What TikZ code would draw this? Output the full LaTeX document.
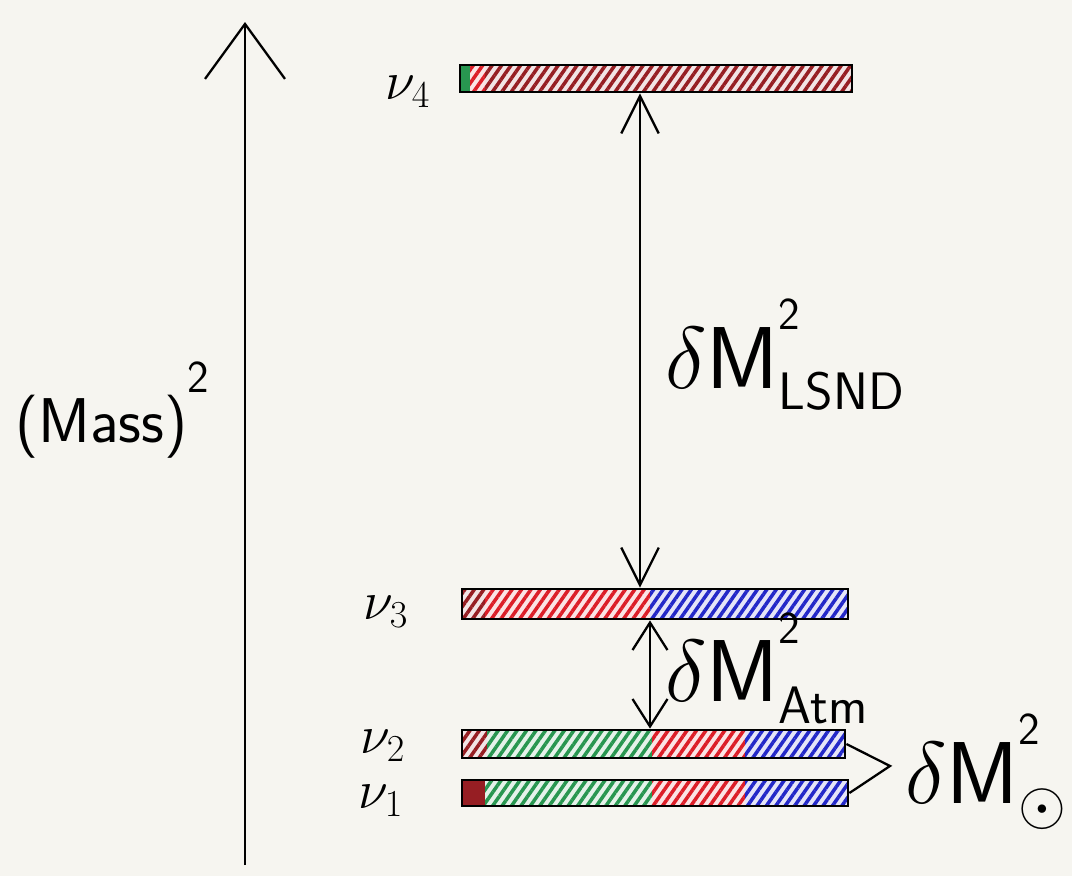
\RequirePackage{fix-cm}
\documentclass[tikz,border=0pt]{standalone}
\usetikzlibrary{arrows.meta,patterns.meta,fit}
\definecolor{paper}{RGB}{246,245,240}
\definecolor{dred}{RGB}{150,30,35}
\definecolor{hred}{RGB}{220,30,40}
\definecolor{hgreen}{RGB}{40,150,80}
\definecolor{hblue}{RGB}{35,40,200}
\newcommand{\subtxt}[1]{\mbox{\fontsize{30}{32}\selectfont\sffamily #1}}
\newcommand{\suptxt}[1]{\raisebox{0.3em}{\mbox{\fontsize{26}{28}\selectfont\sffamily #1}}}
\tikzset{
  barbox/.style={draw=black,line width=1.6pt,inner sep=0pt,rectangle},
  seg/.style={preaction={fill=#1!12},pattern={Lines[angle=55,distance=4.4pt,line width=2pt]},pattern color=#1},
  conn/.style={line width=1.3pt},
  lbl/.style={font=\fontsize{31}{36}\selectfont,inner sep=0pt},
  big/.style={font=\fontsize{50}{56}\selectfont,inner sep=0pt}
}
\begin{document}
\begin{tikzpicture}[x=0.02cm,y=-0.02cm]
\fill[paper] (0,0) rectangle (1072,876);
\useasboundingbox (0,0) rectangle (1072,876);
% axis
\coordinate (ax0) at (245,865);
\coordinate (ax1) at (245,22);
\draw[conn,-{Straight Barb[length=1.1cm,width=1.6cm,line width=1.3pt]}] (ax0) -- (ax1);
\node[lbl,font=\fontsize{36}{44}\selectfont\sffamily] (mass) at (112,410) {(Mass)\raisebox{0.5em}{\suptxt{2}}};

% nu4 bar
\fill[seg=dred] (485,65) rectangle (852,92);
\fill[hgreen] (460,65) rectangle (470,92);
\fill[seg=hred] (470,65) rectangle (485,92);
\node[barbox,fit={(460,65)(852,92)}] (b4) {};
% nu3 bar
\fill[seg=dred] (462,589) rectangle (485,619);
\fill[seg=hred] (485,589) rectangle (650,619);
\fill[seg=hblue] (650,589) rectangle (848,619);
\node[barbox,fit={(462,589)(848,619)}] (b3) {};
% nu2 bar
\fill[seg=dred] (462,730) rectangle (487,758);
\fill[seg=hgreen] (487,730) rectangle (652,758);
\fill[seg=hred] (652,730) rectangle (745,758);
\fill[seg=hblue] (745,730) rectangle (845,758);
\node[barbox,fit={(462,730)(845,758)}] (b2) {};
% nu1 bar
\fill[dred] (462,780) rectangle (485,806);
\fill[seg=hgreen] (485,780) rectangle (652,806);
\fill[seg=hred] (652,780) rectangle (745,806);
\fill[seg=hblue] (745,780) rectangle (848,806);
\node[barbox,fit={(462,780)(848,806)}] (b1) {};

% labels
\node[lbl] (n4) at (408,92) {$\nu_4$};
\node[lbl] (n3) at (386,612) {$\nu_3$};
\node[lbl] (n2) at (383,746) {$\nu_2$};
\node[lbl] (n1) at (381,801) {$\nu_1$};

% LSND arrow
\coordinate (lx) at (640,0);
\draw[conn,{Straight Barb[length=0.75cm,width=0.75cm,line width=1.3pt]}-{Straight Barb[length=0.75cm,width=0.75cm,line width=1.3pt]}] (b4.south -| lx) -- (b3.north -| lx);
\node[big,anchor=west] (lsnd) at (665,355) {$\delta\mathsf{M}^{\suptxt{2}}_{\subtxt{LSND}}$};
% Atm arrow
\coordinate (ax) at (650,0);
\draw[conn,{Straight Barb[length=0.55cm,width=0.7cm,line width=1.3pt]}-{Straight Barb[length=0.55cm,width=0.7cm,line width=1.3pt]}] (b3.south -| ax) -- (b2.north -| ax);
\node[big,anchor=west] (atm) at (665,668) {$\delta\mathsf{M}^{\suptxt{2}}_{\subtxt{Atm}}$};
% solar bracket
\coordinate (sv) at (890,766);
\draw[conn,line join=miter] (b2.east) -- (sv) -- (b1.east);
\node[big,anchor=west] (sol) at (905,772) {$\delta\mathsf{M}^{\suptxt{2}}_{\odot}$};
\end{tikzpicture}
\end{document}
